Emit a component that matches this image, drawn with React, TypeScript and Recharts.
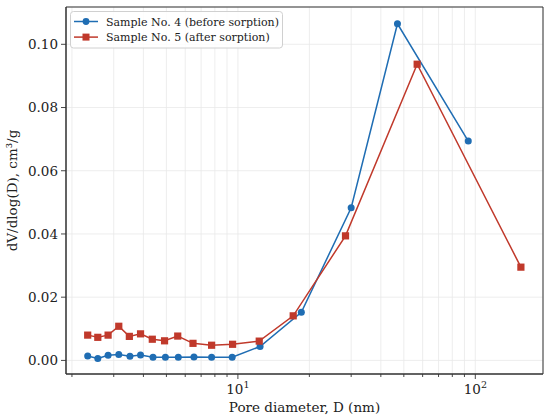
import { LineChart, Line, XAxis, YAxis, CartesianGrid, Legend, ReferenceArea } from 'recharts';

// Pore size distribution
const diameterNo4 = [2.33, 2.57, 2.84, 3.15, 3.51, 3.89, 4.39, 4.95, 5.61, 6.53, 7.75, 9.46, 12.4, 18.5, 30.0, 47.0, 93.4];
const volumeNo4 = [0.0014, 0.0006, 0.0016, 0.0019, 0.0013, 0.0017, 0.001, 0.001, 0.001, 0.0011, 0.001, 0.001, 0.0044, 0.0152, 0.0483, 0.1065, 0.0694];

const diameterNo5 = [2.33, 2.57, 2.84, 3.15, 3.49, 3.89, 4.36, 4.91, 5.58, 6.47, 7.75, 9.5, 12.3, 17.1, 28.4, 56.9, 155.6];
const volumeNo5 = [0.008, 0.0073, 0.008, 0.0108, 0.0076, 0.0084, 0.0067, 0.0062, 0.0077, 0.0054, 0.0048, 0.0051, 0.0061, 0.0141, 0.0394, 0.0937, 0.0295];

const xTicks = [2, 3, 4, 5, 6, 7, 8, 9, 10, 20, 30, 40, 50, 60, 70, 80, 90, 100];
const xMajorLabels: Record<number, string> = { 10: '1', 100: '2' };
const yTicks = [0, 0.02, 0.04, 0.06, 0.08, 0.1];

const xDomain: [number, number] = [1.888, 192.8];
const yDomain: [number, number] = [-0.0043, 0.1118];

const BLUE = '#1f6db3';
const RED = '#c0392b';
const FONT = '"DejaVu Serif", serif';

const series4 = diameterNo4.map((d, i) => ({ d, v: volumeNo4[i] }));
const series5 = diameterNo5.map((d, i) => ({ d, v: volumeNo5[i] }));

const legendItems = [
  { label: 'Sample No. 4 (before sorption)', color: BLUE, marker: 'circle' },
  { label: 'Sample No. 5 (after sorption)', color: RED, marker: 'square' },
];

function XTick(props: any) {
  const { x, y, payload } = props;
  const exp = xMajorLabels[payload.value];
  return (
    <g>
      <line x1={x} x2={x} y1={y} y2={y + (exp ? 5 : 3)} stroke="#333" strokeWidth={0.9} />
      {exp && (
        <text x={x} y={y + 20} textAnchor="middle" fontFamily={FONT} fontSize={13.5} fill="#222">
          10<tspan fontSize={9.5} dy={-6}>{exp}</tspan>
        </text>
      )}
    </g>
  );
}

function SquareDot(props: any) {
  const { cx, cy } = props;
  if (cx == null || cy == null) return null;
  return <rect x={cx - 3.6} y={cy - 3.6} width={7.2} height={7.2} fill={RED} />;
}

// legend drawn as svg so the serif font renders like the axis text
function LegendBox() {
  return (
    <svg width={214} height={38} style={{ display: 'block' }}>
      <rect x={0.5} y={0.5} width={212} height={36.5} rx={3} fill="rgba(255,255,255,0.85)" stroke="#d0d0d0" />
      {legendItems.map((it, i) => {
        const cy = 10.5 + i * 15.6;
        return (
          <g key={it.label}>
            <line x1={4} x2={28} y1={cy} y2={cy} stroke={it.color} strokeWidth={1.5} />
            {it.marker === 'circle' ? (
              <circle cx={16} cy={cy} r={3.4} fill={it.color} />
            ) : (
              <rect x={12.5} y={cy - 3.5} width={7} height={7} fill={it.color} />
            )}
            <text x={36} y={cy + 4} fontFamily={FONT} fontSize={11} fill="#222">
              {it.label}
            </text>
          </g>
        );
      })}
    </svg>
  );
}

export default function App() {
  return (
    <div style={{ position: 'absolute', left: 0, top: 0, width: 550, height: 419, background: '#fff' }}>
      <LineChart width={550} height={419} margin={{ top: 7, right: 7, bottom: 0, left: 0 }}>
        <CartesianGrid stroke="#e8e8e8" strokeWidth={0.8} />
        <XAxis
          dataKey="d"
          type="number"
          scale="log"
          domain={xDomain}
          allowDataOverflow
          ticks={xTicks}
          interval={0}
          tick={<XTick />}
          tickLine={false}
          tickSize={0}
          tickMargin={0}
          axisLine={{ stroke: '#333', strokeWidth: 1 }}
          height={45}
          label={{
            content: () => (
              <text x={304.5} y={412} textAnchor="middle" fontFamily={FONT} fontSize={13.5} fill="#222">
                Pore diameter, D (nm)
              </text>
            ),
          }}
        />
        <YAxis
          type="number"
          domain={yDomain}
          allowDataOverflow
          ticks={yTicks}
          interval={0}
          width={66}
          tickSize={5}
          tickMargin={3}
          tickLine={{ stroke: '#333', strokeWidth: 0.9 }}
          axisLine={{ stroke: '#333', strokeWidth: 1 }}
          tickFormatter={(v: number) => v.toFixed(2)}
          tick={{ fontFamily: FONT, fontSize: 13.5, fill: '#222' }}
          label={{
            content: () => (
              <text
                x={17}
                y={190.5}
                transform="rotate(-90, 17, 190.5)"
                textAnchor="middle"
                fontFamily={FONT}
                fontSize={13.5}
                fill="#222"
              >
                dV/dlog(D), cm³/g
              </text>
            ),
          }}
        />
        <ReferenceArea
          x1={xDomain[0]}
          x2={xDomain[1]}
          y1={yDomain[0]}
          y2={yDomain[1]}
          fill="none"
          stroke="#333"
          strokeWidth={1}
          ifOverflow="extendDomain"
        />
        <Line
          data={series4}
          dataKey="v"
          name="Sample No. 4 (before sorption)"
          stroke={BLUE}
          strokeWidth={1.5}
          dot={{ r: 3.5, fill: BLUE, stroke: BLUE, strokeWidth: 0 }}
          activeDot={false}
          isAnimationActive={false}
        />
        <Line
          data={series5}
          dataKey="v"
          name="Sample No. 5 (after sorption)"
          stroke={RED}
          strokeWidth={1.5}
          dot={<SquareDot />}
          activeDot={false}
          isAnimationActive={false}
        />
        <Legend
          layout="vertical"
          align="center"
          verticalAlign="middle"
          wrapperStyle={{ position: 'absolute', left: 70, top: 11, width: 'auto' }}
          content={() => <LegendBox />}
        />
      </LineChart>
    </div>
  );
}
